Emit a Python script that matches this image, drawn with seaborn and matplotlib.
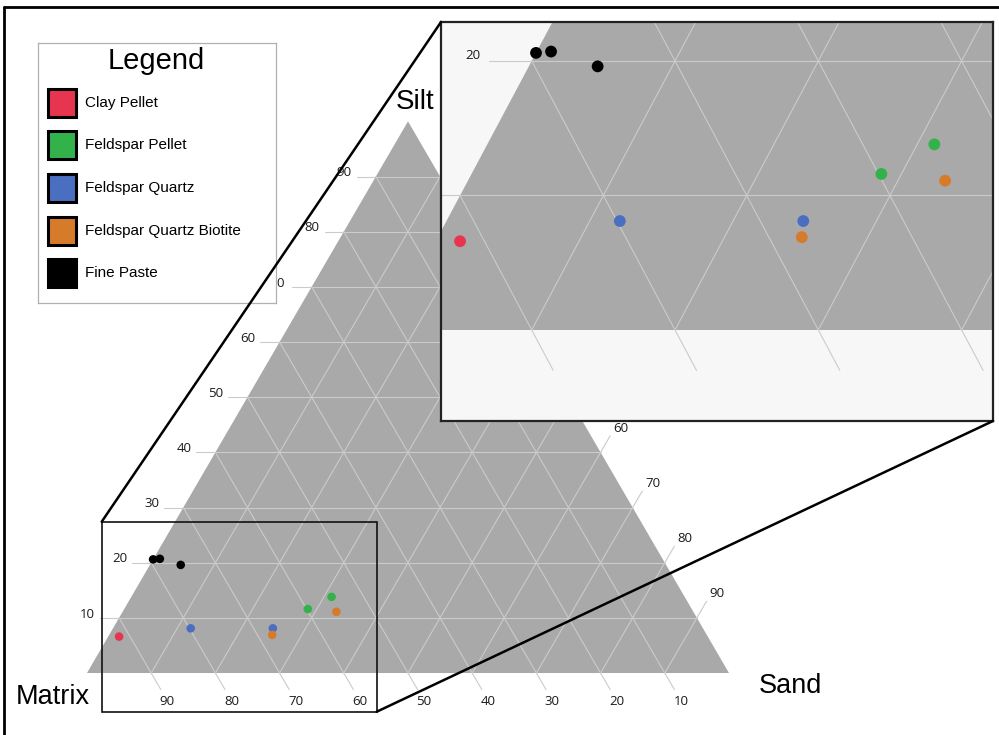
import numpy as np
import pandas as pd
import matplotlib
matplotlib.use("Agg")
import matplotlib.pyplot as plt
from matplotlib.patches import Polygon, Rectangle, ConnectionPatch
from matplotlib.lines import Line2D
import seaborn as sns

# sample composition (percent)
groups = ["Fine Paste", "Fine Paste", "Fine Paste", "Feldspar Pellet", "Feldspar Pellet",
          "Feldspar Quartz Biotite", "Feldspar Quartz", "Feldspar Quartz",
          "Feldspar Quartz Biotite", "Clay Pellet"]
matrix = [79.4, 78.3, 75.6, 55.0, 59.8, 55.6, 79.8, 67.0, 67.7, 91.7]
silt = [20.6, 20.7, 19.6, 13.8, 11.6, 11.1, 8.1, 8.1, 6.9, 6.6]
sand = [0.0, 1.0, 4.8, 31.2, 28.6, 33.3, 12.1, 24.9, 25.4, 1.7]

legend_names = ["Clay Pellet", "Feldspar Pellet", "Feldspar Quartz",
                "Feldspar Quartz Biotite", "Fine Paste"]
legend_colors = ["#e8354f", "#33b24c", "#4a6ec0", "#d67b2a", "#000000"]

grid_vals = [10, 20, 30, 40, 50, 60, 70, 80, 90]
silt_labels = ["10", "20", "30", "40", "50", "60", "0", "80", "90"]
matrix_labels = ["10", "20", "30", "40", "50", "60", "70", "80", "90"]
sand_labels = ["10", "20", "30", "40", "50", "60", "70", "80", "90"]

TRI = "#a9a9a9"
GRID = "#cbcbcb"
H = np.sqrt(3) / 2
NUM_FONT = ["Open Sans", "DejaVu Sans"]

sns.set_style("white")
plt.rcParams["font.family"] = ["Liberation Sans", "DejaVu Sans"]
plt.rcParams["text.color"] = "black"

df = pd.DataFrame({"group": groups, "matrix": matrix, "silt": silt, "sand": sand})
df["X"] = df["sand"] + df["silt"] / 2
df["Y"] = df["silt"] * H
pal = dict(zip(legend_names, legend_colors))


def draw_ternary(ax, left_off, bot_off, right_off, lims=None):
    ax.add_patch(Polygon([(0, 0), (100, 0), (50, 100 * H)], closed=True,
                         facecolor=TRI, edgecolor="none", zorder=1))
    t = 3.0
    for i, k in enumerate(grid_vals):
        # constant silt, tick to the left
        ax.plot([k / 2 - t, 100 - k / 2], [k * H, k * H], color=GRID, lw=0.8, zorder=2)
        # constant matrix, tick below the base
        ax.plot([100 - k + t * 0.5, (100 - k) / 2], [-t * H, (100 - k) * H],
                color=GRID, lw=0.8, zorder=2)
        # constant sand, tick beyond the right edge
        ax.plot([k, k + (100 - k) / 2 + t * 0.5], [0, (100 - k) * H + t * H],
                color=GRID, lw=0.8, zorder=2)

        labs = [
            (k / 2 + left_off[0], k * H + left_off[1], silt_labels[i]),
            (100 - k + bot_off[0], bot_off[1], matrix_labels[i]),
            (100 - k / 2 + right_off[0], k * H + right_off[1], sand_labels[8 - i]),
        ]
        for x, y, s in labs:
            if lims is not None:
                (x0, x1), (y0, y1) = lims
                if not (x0 + 2 < x < x1 - 2 and y0 + 1 < y < y1 - 1):
                    continue
            ax.text(x, y, s, ha="center", va="center", fontsize=9.5,
                    family=NUM_FONT, color="#1a1a1a", zorder=3)


fig = plt.figure(figsize=(9.99, 7.35), dpi=100)

# main ternary
ax = fig.add_axes([0, 0, 1, 1])
ax.set_xlim(-13.55, 142.06)
ax.set_ylim(-9.73, 105.65)
ax.axis("off")
draw_ternary(ax, (-4.9, 0.6), (2.5, -4.4), (3.15, 3.8))
sns.scatterplot(data=df, x="X", y="Y", hue="group", palette=pal, s=38,
                linewidth=0, legend=False, ax=ax, zorder=5)

ax.text(51.1, 89.6, "Silt", ha="center", va="center", fontsize=20)
ax.text(-5.3, -3.8, "Matrix", ha="center", va="center", fontsize=19.5)
ax.text(109.5, -2.0, "Sand", ha="center", va="center", fontsize=19.5)

# zoom box on the main plot
bx0, bx1, by0, by1 = 2.29, 45.12, -6.08, 23.75
ax.add_patch(Rectangle((bx0, by0), bx1 - bx0, by1 - by0, fill=False,
                       edgecolor="#111111", lw=1.2, zorder=6))

# inset
axin = fig.add_axes([441 / 999, 1 - 421 / 735, 552 / 999, 399 / 735])
axin.set_facecolor("#f7f7f7")
ix = (3.67, 42.19)
iy = (-5.86, 19.83)
axin.set_xlim(*ix)
axin.set_ylim(*iy)
axin.set_xticks([])
axin.set_yticks([])
for sp in axin.spines.values():
    sp.set_color("#222222")
    sp.set_linewidth(1.6)
draw_ternary(axin, (-4.1, 0.37), (1.97, -4.89), (3.15, 3.8), lims=(ix, iy))
sns.scatterplot(data=df, x="X", y="Y", hue="group", palette=pal, s=72,
                linewidth=0, legend=False, ax=axin, zorder=5)
axin.set_xlabel("")
axin.set_ylabel("")

for a, b in [((bx0, by1), (0, 1)), ((bx1, by0), (1, 0))]:
    con = ConnectionPatch(xyA=a, coordsA=ax.transData, xyB=b, coordsB=axin.transAxes,
                          color="black", lw=1.8, zorder=10)
    fig.add_artist(con)

# legend box
lax = fig.add_axes([38 / 999, 1 - 303 / 735, 238 / 999, 260 / 735])
lax.set_xlim(0, 238)
lax.set_ylim(260, 0)
lax.set_xticks([])
lax.set_yticks([])
for sp in lax.spines.values():
    sp.set_color("#b0b0b0")
    sp.set_linewidth(0.9)
lax.text(118, 18, "Legend", ha="center", va="center", fontsize=21)
for i, (name, col) in enumerate(zip(legend_names, legend_colors)):
    cy = 59.5 + i * 42.7
    lax.add_patch(Rectangle((9.5, cy - 14), 28, 28, facecolor=col,
                            edgecolor="black", lw=2.2))
    lax.text(47, cy, name, ha="left", va="center", fontsize=11)

# outer frame (top and left only)
fig.add_artist(Line2D([4 / 999, 1], [1 - 7 / 735] * 2, transform=fig.transFigure,
                      color="black", lw=2))
fig.add_artist(Line2D([4 / 999] * 2, [0, 1 - 7 / 735], transform=fig.transFigure,
                      color="black", lw=2))

fig.savefig("out.png", dpi=100)
